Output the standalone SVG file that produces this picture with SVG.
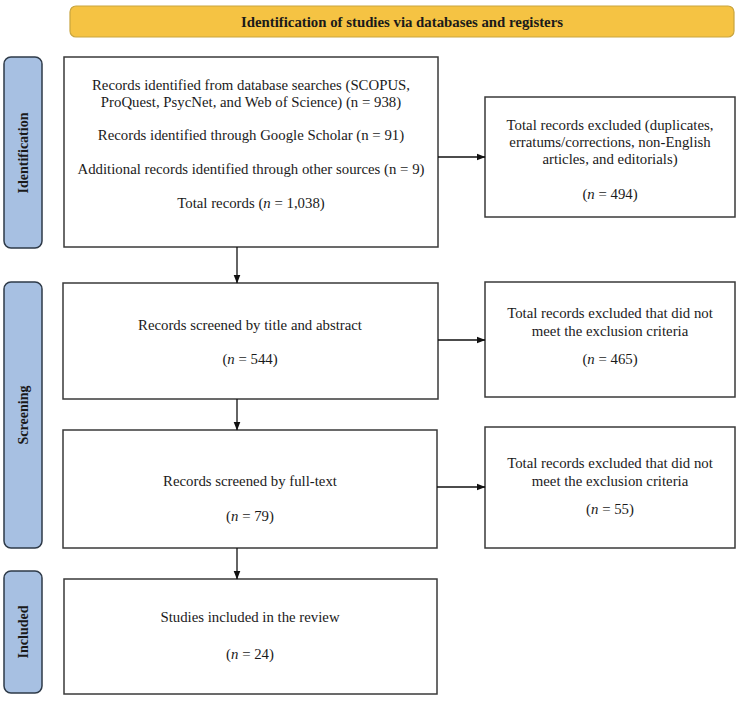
<svg xmlns="http://www.w3.org/2000/svg" width="745" height="702" viewBox="0 0 745 702">
<style>
.box{fill:#fff;stroke:#3a3a3a;stroke-width:1.5}
.tab{fill:#A7C0E2;stroke:#2e3a48;stroke-width:1.5}
.banner{fill:#F5C343;stroke:#C9A53F;stroke-width:1.2}
.t{font-family:"Liberation Serif","Times New Roman",serif;font-size:14.8px;fill:#1a1a1a;text-anchor:middle}
.b{font-family:"Liberation Serif","Times New Roman",serif;font-size:14px;font-weight:bold;fill:#1a1a1a;text-anchor:middle}
.conn{stroke:#111;stroke-width:1.3;fill:none}
</style>
<defs>
<marker id="ah" markerWidth="9" markerHeight="8" refX="8.5" refY="4" orient="auto" markerUnits="userSpaceOnUse">
<path d="M0,0.5 L9,4 L0,7.5 Z" fill="#111"/>
</marker>
</defs>
<rect width="745" height="702" fill="#fff"/>
<g id="banner">
<rect class="banner" x="70" y="6" width="664" height="31" rx="6"/>
<text class="b" x="402" y="26.5" style="font-size:14.8px">Identification of studies via databases and registers</text>
</g>
<g id="tab-identification">
<rect class="tab" x="4" y="57" width="38" height="191" rx="7"/>
<text class="b" transform="translate(28,153) rotate(-90)">Identification</text>
</g>
<g id="tab-screening">
<rect class="tab" x="4" y="282" width="38" height="266" rx="7"/>
<text class="b" transform="translate(28,415) rotate(-90)">Screening</text>
</g>
<g id="tab-included">
<rect class="tab" x="4" y="571" width="38" height="122" rx="7"/>
<text class="b" transform="translate(28,632) rotate(-90)">Included</text>
</g>
<g id="box-identified">
<rect class="box" x="64" y="57" width="374" height="190"/>
<text class="t" x="251" y="90">Records identified from database searches (SCOPUS,</text>
<text class="t" x="251" y="107">ProQuest, PsycNet, and Web of Science) (n = 938)</text>
<text class="t" x="251" y="140">Records identified through Google Scholar (n = 91)</text>
<text class="t" x="251" y="174">Additional records identified through other sources (n = 9)</text>
<text class="t" x="251" y="208">Total records (<tspan font-style="italic">n</tspan> = 1,038)</text>
</g>
<g id="box-excluded1">
<rect class="box" x="485" y="97" width="250" height="120"/>
<text class="t" x="610" y="130">Total records excluded (duplicates,</text>
<text class="t" x="610" y="147">erratums/corrections, non-English</text>
<text class="t" x="610" y="164">articles, and editorials)</text>
<text class="t" x="610" y="199">(<tspan font-style="italic">n</tspan> = 494)</text>
</g>
<g id="box-screened">
<rect class="box" x="63" y="283" width="375" height="116"/>
<text class="t" x="250" y="330">Records screened by title and abstract</text>
<text class="t" x="250" y="364">(<tspan font-style="italic">n</tspan> = 544)</text>
</g>
<g id="box-excluded2">
<rect class="box" x="485" y="282" width="250" height="115"/>
<text class="t" x="610" y="318">Total records excluded that did not</text>
<text class="t" x="610" y="336">meet the exclusion criteria</text>
<text class="t" x="610" y="364">(<tspan font-style="italic">n</tspan> = 465)</text>
</g>
<g id="box-fulltext">
<rect class="box" x="63" y="430" width="374" height="118"/>
<text class="t" x="250" y="486">Records screened by full-text</text>
<text class="t" x="250" y="521">(<tspan font-style="italic">n</tspan> = 79)</text>
</g>
<g id="box-excluded3">
<rect class="box" x="485" y="427" width="250" height="121"/>
<text class="t" x="610" y="468">Total records excluded that did not</text>
<text class="t" x="610" y="486">meet the exclusion criteria</text>
<text class="t" x="610" y="514">(<tspan font-style="italic">n</tspan> = 55)</text>
</g>
<g id="box-included">
<rect class="box" x="64" y="579" width="373" height="115"/>
<text class="t" x="250" y="622">Studies included in the review</text>
<text class="t" x="250" y="659">(<tspan font-style="italic">n</tspan> = 24)</text>
</g>
<g id="connectors">
<line class="conn" x1="438" y1="157" x2="485" y2="157" marker-end="url(#ah)"/>
<line class="conn" x1="438" y1="340" x2="485" y2="340" marker-end="url(#ah)"/>
<line class="conn" x1="437" y1="487" x2="485" y2="487" marker-end="url(#ah)"/>
<line class="conn" x1="237" y1="247" x2="237" y2="283" marker-end="url(#ah)"/>
<line class="conn" x1="237" y1="399" x2="237" y2="430" marker-end="url(#ah)"/>
<line class="conn" x1="237" y1="548" x2="237" y2="579" marker-end="url(#ah)"/>
</g>
</svg>
